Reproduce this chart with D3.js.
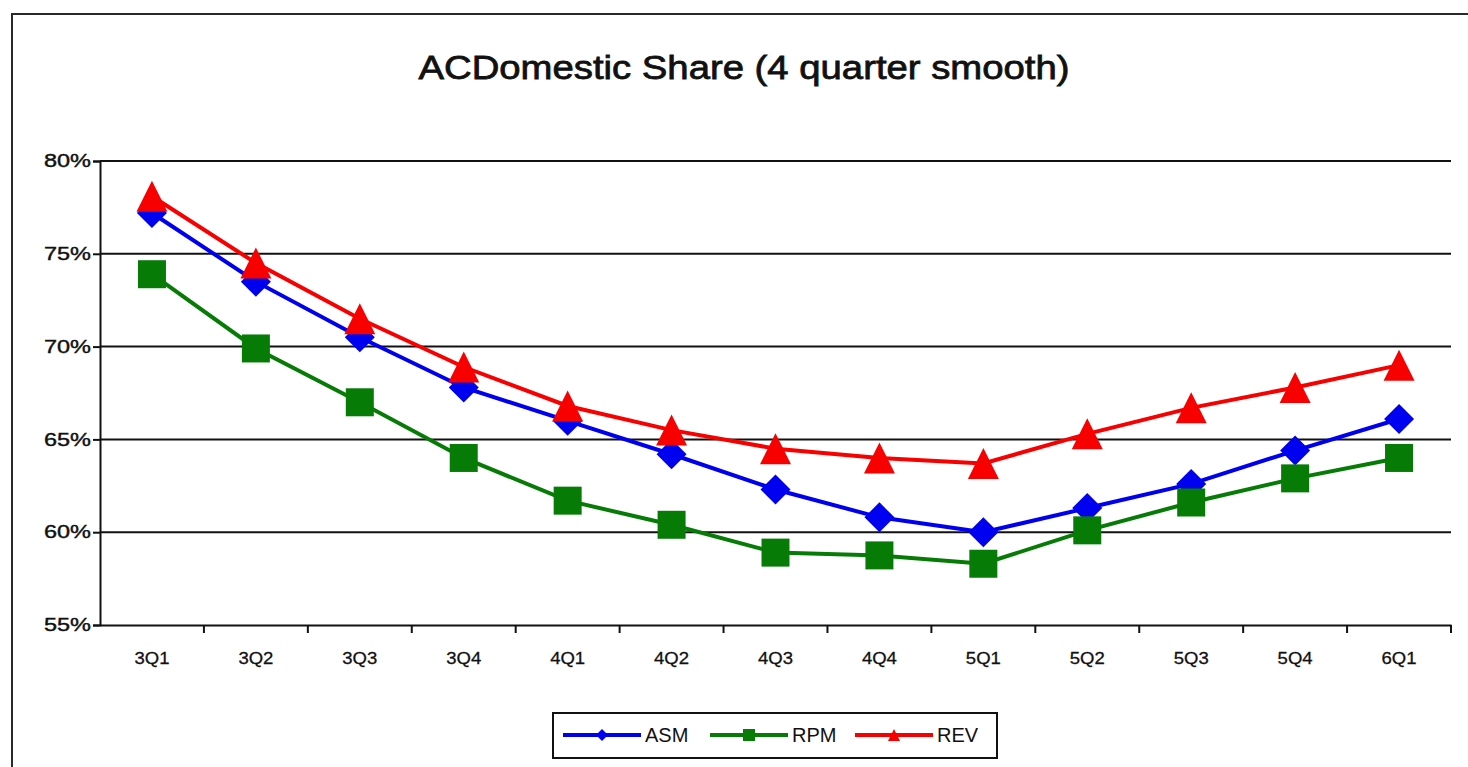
<!DOCTYPE html>
<html>
<head>
<meta charset="utf-8">
<script src="https://cdn.jsdelivr.net/npm/d3@7"></script>
<style>
  html, body { margin: 0; padding: 0; background: #fff; }
  svg { display: block; font-family: "Liberation Sans", Arial, sans-serif; }
</style>
</head>
<body>
<svg id="chart" width="1468" height="767"></svg>
<script>
// Quarters on the category axis
const quarters = ["3Q1", "3Q2", "3Q3", "3Q4", "4Q1", "4Q2", "4Q3", "4Q4", "5Q1", "5Q2", "5Q3", "5Q4", "6Q1"];

// Domestic share, 4-quarter smoothed (%)
const asm = [77.2, 73.5, 70.5, 67.8, 66.0, 64.2, 62.3, 60.8, 60.0, 61.3, 62.6, 64.4, 66.1];
const rpm = [73.9, 69.9, 67.0, 64.0, 61.7, 60.4, 58.9, 58.75, 58.3, 60.1, 61.6, 62.9, 64.0];
const rev = [78.1, 74.5, 71.5, 68.9, 66.8, 65.5, 64.5, 64.0, 63.7, 65.3, 66.7, 67.8, 69.0];

// Value axis ticks
const yTicks = [55, 60, 65, 70, 75, 80];

const seriesNames = ["ASM", "RPM", "REV"];
const seriesValues = [asm, rpm, rev];

const title = "ACDomestic Share (4 quarter smooth)";

const svg = d3.select("#chart");

const plot = { left: 100, right: 1451, top: 161, bottom: 625 };

const x = d3.scaleBand().domain(quarters).range([plot.left, plot.right]).padding(0);
const y = d3.scaleLinear().domain([55, 80]).range([plot.bottom, plot.top]);

// Outer chart frame (runs off the right and bottom edges)
svg.append("rect")
  .attr("x", 12).attr("y", 14)
  .attr("width", 1500).attr("height", 800)
  .attr("fill", "#fff")
  .attr("stroke", "#2a2a2a")
  .attr("stroke-width", 2);

// Title
svg.append("text")
  .attr("x", 744).attr("y", 79)
  .attr("text-anchor", "middle")
  .attr("font-size", 34)
  .attr("textLength", 651)
  .attr("lengthAdjust", "spacingAndGlyphs")
  .attr("fill", "#111")
  .attr("stroke", "#111")
  .attr("stroke-width", 0.8)
  .text(title);

// Horizontal gridlines
svg.append("g")
  .selectAll("line")
  .data(yTicks.filter(t => t > 55))
  .join("line")
  .attr("x1", plot.left).attr("x2", plot.right)
  .attr("y1", d => y(d)).attr("y2", d => y(d))
  .attr("stroke", "#111")
  .attr("stroke-width", 2);

// Value axis
const yAxis = d3.axisLeft(y)
  .tickValues(yTicks)
  .tickSize(7)
  .tickPadding(2)
  .tickFormat(d => d + "%");
const gy = svg.append("g")
  .attr("transform", `translate(${plot.left},0)`)
  .call(yAxis);
gy.select(".domain").attr("stroke", "#111").attr("stroke-width", 2);
gy.selectAll(".tick line").attr("stroke", "#111").attr("stroke-width", 2);
gy.selectAll(".tick text")
  .attr("font-family", "Liberation Sans, Arial, sans-serif")
  .attr("font-size", 18)
  .attr("fill", "#111")
  .attr("stroke", "#111")
  .attr("stroke-width", 0.4)
  .attr("textLength", 47)
  .attr("lengthAdjust", "spacingAndGlyphs");

// Category axis
const xAxis = d3.axisBottom(x).tickSize(0).tickPadding(27);
const gx = svg.append("g")
  .attr("transform", `translate(0,${plot.bottom})`)
  .call(xAxis);
gx.select(".domain").attr("stroke", "#111").attr("stroke-width", 2);
gx.selectAll(".tick text")
  .attr("font-family", "Liberation Sans, Arial, sans-serif")
  .attr("font-size", 17)
  .attr("fill", "#111")
  .attr("stroke", "#111")
  .attr("stroke-width", 0.3)
  .attr("textLength", 35)
  .attr("lengthAdjust", "spacingAndGlyphs");
// tick marks between categories
gx.append("g")
  .selectAll("line")
  .data(quarters)
  .join("line")
  .attr("x1", d => x(d) + x.bandwidth())
  .attr("x2", d => x(d) + x.bandwidth())
  .attr("y1", 0).attr("y2", 8)
  .attr("stroke", "#111")
  .attr("stroke-width", 2);

// Marker shapes
const diamond = {
  draw(ctx, size) {
    const h = Math.sqrt(size) / 2;
    ctx.moveTo(0, -h); ctx.lineTo(h, 0); ctx.lineTo(0, h); ctx.lineTo(-h, 0); ctx.closePath();
  }
};
const square = {
  draw(ctx, size) {
    const h = Math.sqrt(size) / 2;
    ctx.rect(-h, -h, 2 * h, 2 * h);
  }
};
const triangle = {
  draw(ctx, size) {
    const h = Math.sqrt(size) / 2;
    ctx.moveTo(0, -h); ctx.lineTo(h, h); ctx.lineTo(-h, h); ctx.closePath();
  }
};

const styles = [
  { color: "#0000f0", shape: diamond, size: 30 * 30 },
  { color: "#067c06", shape: square, size: 28 * 28 },
  { color: "#f80000", shape: triangle, size: 31 * 31 }
];

const line = d3.line()
  .x((d, i) => x(quarters[i]) + x.bandwidth() / 2)
  .y(d => y(d));

seriesValues.forEach((vals, s) => {
  const st = styles[s];
  const g = svg.append("g").attr("class", "series-" + seriesNames[s]);
  g.append("path")
    .attr("d", line(vals))
    .attr("fill", "none")
    .attr("stroke", st.color)
    .attr("stroke-width", 4);
  g.selectAll("path.marker")
    .data(vals)
    .join("path")
    .attr("class", "marker")
    .attr("transform", (d, i) => `translate(${x(quarters[i]) + x.bandwidth() / 2},${y(d)})`)
    .attr("d", d3.symbol(st.shape, st.size))
    .attr("fill", st.color);
});

// Legend
const legend = svg.append("g");
legend.append("rect")
  .attr("x", 553).attr("y", 713)
  .attr("width", 444).attr("height", 45)
  .attr("fill", "#fff")
  .attr("stroke", "#111")
  .attr("stroke-width", 2);

const legendX = [563, 710, 855];
seriesNames.forEach((name, s) => {
  const st = styles[s];
  const lx = legendX[s];
  const ly = 735;
  legend.append("line")
    .attr("x1", lx).attr("x2", lx + 78)
    .attr("y1", ly).attr("y2", ly)
    .attr("stroke", st.color)
    .attr("stroke-width", 4);
  legend.append("path")
    .attr("transform", `translate(${lx + 39},${ly})`)
    .attr("d", d3.symbol(st.shape, 12 * 12))
    .attr("fill", st.color);
  legend.append("text")
    .attr("x", lx + 82).attr("y", ly + 7)
    .attr("font-size", 20)
    .attr("fill", "#111")
    .text(name);
});
</script>
</body>
</html>
